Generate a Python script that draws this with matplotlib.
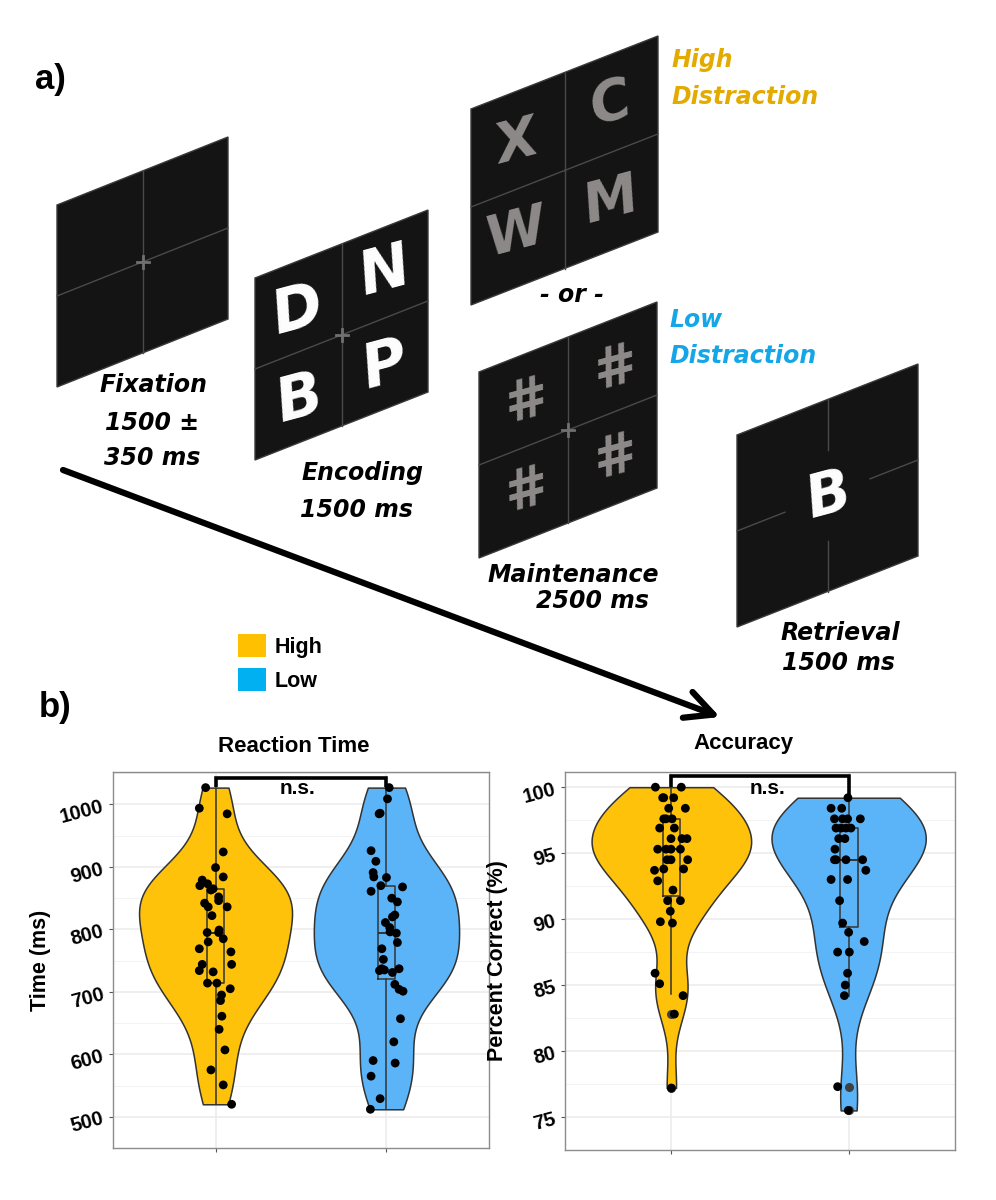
import matplotlib
matplotlib.use("Agg")
import matplotlib.pyplot as plt
from matplotlib.patches import Polygon, Patch
import numpy as np

# ---------------- data ----------------
conditions = ["High", "Low"]

# reaction time (ms) and the horizontal jitter of each dot
rt_high = [1027, 994, 985, 924, 899, 884, 879, 870, 873, 865, 863, 852, 846,
           842, 836, 836, 822, 795, 799, 795, 785, 780, 769, 764, 744, 744,
           734, 732, 714, 714, 705, 695, 686, 661, 640, 607, 575, 551, 520]
rt_high_jit = [-0.058, -0.095, 0.068, 0.045, 0.0, 0.045, -0.078, -0.092, -0.047,
               -0.014, -0.027, 0.018, 0.018, -0.064, -0.043, 0.068, -0.021,
               -0.049, 0.021, 0.018, 0.045, -0.043, -0.095, 0.090, -0.078,
               0.094, -0.095, -0.014, -0.047, 0.008, 0.086, 0.035, 0.029,
               0.037, 0.021, 0.055, -0.027, 0.045, 0.094]
rt_low = [1027, 1009, 986, 985, 926, 909, 891, 884, 883, 870, 861, 868, 850,
          844, 823, 820, 811, 803, 796, 794, 779, 769, 752, 737, 735, 737,
          734, 731, 712, 704, 701, 657, 620, 586, 590, 565, 529, 512]
rt_low_jit = [0.016, 0.006, -0.037, -0.043, -0.090, -0.062, -0.078, -0.074, 0.0,
              -0.033, -0.090, 0.094, 0.031, 0.064, 0.049, 0.035, -0.006, 0.019,
              0.021, 0.058, 0.064, -0.027, -0.018, -0.027, -0.012, 0.074,
              -0.041, 0.035, 0.049, 0.074, 0.097, 0.082, 0.043, 0.051, -0.078,
              -0.090, -0.037, -0.094]

# accuracy (% correct)
acc_high = [100.0, 100.0, 99.2, 99.2, 99.2, 98.4, 98.4, 97.6, 97.6, 97.6, 96.9,
            96.9, 96.1, 96.1, 96.1, 95.3, 95.3, 95.3, 95.3, 94.5, 94.5, 94.5,
            93.7, 93.8, 93.8, 92.9, 92.2, 91.4, 91.4, 90.6, 89.8, 89.7, 85.9,
            85.1, 84.2, 82.8, 77.2]
acc_high_jit = [-0.090, 0.056, -0.049, -0.043, 0.013, -0.015, 0.079, -0.043,
                -0.030, 0.004, -0.066, 0.017, -0.002, 0.060, 0.088, -0.077,
                -0.030, -0.002, 0.051, -0.024, -0.002, 0.092, -0.095, -0.043,
                0.069, -0.077, 0.009, -0.021, 0.051, -0.006, -0.062, 0.006,
                -0.092, -0.066, 0.066, 0.017, 0.0]
acc_low = [99.2, 98.4, 98.4, 97.6, 97.6, 97.6, 97.6, 96.9, 96.9, 96.9, 96.9,
           96.1, 96.1, 95.3, 94.5, 94.5, 94.5, 94.5, 93.7, 93.0, 93.0, 91.4,
           89.7, 89.0, 88.3, 87.5, 87.5, 85.9, 85.0, 84.2, 77.3, 75.5]
acc_low_jit = [-0.004, -0.099, -0.039, -0.080, -0.034, -0.006, 0.066, -0.071,
               -0.043, -0.015, 0.013, -0.056, -0.021, -0.077, -0.080, -0.071,
               -0.015, 0.079, 0.097, -0.099, -0.006, -0.051, -0.034, 0.0, 0.088,
               -0.062, 0.004, -0.006, -0.019, -0.024, -0.062, -0.002]

# box statistics as drawn in the figure
rt_q1 = [714, 721]
rt_med = [795, 795]
rt_q3 = [865, 869]
rt_lo = [520, 512]
rt_hi = [1027, 1027]
rt_fliers = [[], []]

acc_q1 = [91.75, 89.4]
acc_med = [95.3, 94.5]
acc_q3 = [97.6, 96.9]
acc_lo = [84.3, 84.2]
acc_hi = [100.0, 99.2]
acc_fliers = [[82.8, 77.2], [77.3, 75.5]]

# significance brackets: bar height, the two drop ends
rt_bar = [1042.5, 1028, 1028]
acc_bar = [100.83, 100.0, 99.2]

# ---------------- styles ----------------
VIOLIN = ["#FFC20A", "#5CB4F8"]
LEGEND = ["#FFC000", "#00B0F0"]
HIGH_TXT = "#E3AA00"
LOW_TXT = "#14A6E6"
SCREEN = "#141414"
GRID_IN = "#4a4a4a"
DISTRACT = "#8E8A8A"
ARIAL = "Liberation Sans"
STAGE = dict(family="DejaVu Sans", weight="bold", style="italic", fontsize=17,
             ha="center", va="center")

fig = plt.figure(figsize=(9.96, 12), dpi=100)

# ---------------- panel a: task schematic (pixel coords) ----------------
ax0 = fig.add_axes([0, 0, 1, 1])
ax0.set_xlim(0, 996)
ax0.set_ylim(1200, 0)
ax0.axis("off")


def screen(x, y, w, h, rise, gap=0.0, cross=False):
    def pt(u, v):
        return (x + u * w, y + v * h - u * rise)
    ax0.add_patch(Polygon([pt(0, 0), pt(1, 0), pt(1, 1), pt(0, 1)], closed=True,
                          facecolor=SCREEN, edgecolor="#3a3a3a", lw=1, zorder=2))
    for a, b in [(0.0, 0.5 - gap), (0.5 + gap, 1.0)]:
        p, q = pt(0.5, a), pt(0.5, b)
        ax0.plot([p[0], q[0]], [p[1], q[1]], color=GRID_IN, lw=1, zorder=3)
        p, q = pt(a, 0.5), pt(b, 0.5)
        ax0.plot([p[0], q[0]], [p[1], q[1]], color=GRID_IN, lw=1, zorder=3)
    if cross:
        cx, cy = pt(0.5, 0.5)
        ax0.plot([cx - 6, cx + 6], [cy, cy], color="#707070", lw=2, zorder=4)
        ax0.plot([cx, cx], [cy - 6, cy + 6], color="#707070", lw=2, zorder=4)
    return pt


def letter(pt, u, v, s, color, size):
    px, py = pt(u, v)
    ax0.text(px, py, s, color=color, fontsize=size, family="DejaVu Sans",
             weight="bold", style="italic", rotation=15, ha="center",
             va="center", zorder=5)


screen(57, 205, 171, 182, 68, cross=True)

enc = screen(255, 278, 173, 182, 68, cross=True)
for (u, v), s in zip([(0.25, 0.28), (0.75, 0.25), (0.26, 0.77), (0.75, 0.76)],
                     ["D", "N", "B", "P"]):
    letter(enc, u, v, s, "white", 44)

hi = screen(471, 109, 187, 196, 73)
for (u, v), s in zip([(0.25, 0.27), (0.75, 0.25), (0.24, 0.72), (0.75, 0.75)],
                     ["X", "C", "W", "M"]):
    letter(hi, u, v, s, DISTRACT, 40)

lo = screen(479, 372, 178, 186, 70, cross=True)
for (u, v) in [(0.25, 0.26), (0.75, 0.27), (0.25, 0.74), (0.75, 0.75)]:
    letter(lo, u, v, "#", DISTRACT, 40)

ret = screen(737, 435, 181, 192, 71, gap=0.235)
letter(ret, 0.51, 0.51, "B", "white", 42)

ax0.text(153, 385, "Fixation", **STAGE)
ax0.text(152, 423, "1500 ±", **STAGE)
ax0.text(152, 458, "350 ms", **STAGE)
ax0.text(362, 473, "Encoding", **STAGE)
ax0.text(357, 510, "1500 ms", **STAGE)
ax0.text(572, 295, "- or -", **STAGE)
ax0.text(573, 575, "Maintenance", **STAGE)
ax0.text(592, 601, "2500 ms", **STAGE)
ax0.text(840, 633, "Retrieval", **STAGE)
ax0.text(838, 663, "1500 ms", **STAGE)
left = dict(STAGE, ha="left")
ax0.text(672, 60, "High", color=HIGH_TXT, **left)
ax0.text(672, 97, "Distraction", color=HIGH_TXT, **left)
ax0.text(670, 320, "Low", color=LOW_TXT, **left)
ax0.text(670, 356, "Distraction", color=LOW_TXT, **left)

ax0.annotate("", xy=(720, 717), xytext=(63, 470),
             arrowprops=dict(arrowstyle="->,head_length=0.9,head_width=0.45",
                             lw=4.5, color="black", mutation_scale=22,
                             shrinkA=0, shrinkB=0))

ax0.text(50, 80, "a)", family=ARIAL, weight="bold", fontsize=25,
         ha="center", va="center")
ax0.text(55, 708, "b)", family=ARIAL, weight="bold", fontsize=25,
         ha="center", va="center")

handles = [Patch(facecolor=c, edgecolor="none") for c in LEGEND]
fig.legend(handles, conditions, loc="upper left",
           bbox_to_anchor=(238 / 996, 1 - 634 / 1200), frameon=False,
           prop=dict(family=ARIAL, weight="bold", size=15.5),
           handlelength=1.3, handleheight=1.3, handletextpad=0.4,
           labelspacing=0.45, borderpad=0, borderaxespad=0)

ax0.text(294, 746, "Reaction Time", family=ARIAL, weight="bold", fontsize=16,
         ha="center", va="center")
ax0.text(743, 743, "Accuracy", family=ARIAL, weight="bold", fontsize=16,
         ha="center", va="center")


# ---------------- panel b: violins ----------------
def nrd0(kde):
    d = kde.dataset.ravel()
    sd = d.std(ddof=1)
    iqr = np.subtract(*np.percentile(d, [75, 25]))
    return 0.9 * min(sd, iqr / 1.34) * len(d) ** -0.2 / sd


def violin_panel(ax, groups, jitters, widths, q1, med, q3, lo, hi, fliers,
                 bar, ns_xy, ylim, yticks, ylabel, label_x):
    ax.set_xlim(0.4, 2.6)
    ax.set_ylim(*ylim)
    ax.set_yticks(yticks)
    step = yticks[1] - yticks[0]
    ax.set_yticks(np.arange(yticks[0] - step / 2, ylim[1], step), minor=True)
    ax.set_xticks([1, 2])
    ax.set_xticklabels([])
    ax.grid(True, which="major", color="#EBEBEB", lw=1.1)
    ax.grid(True, which="minor", axis="y", color="#F3F3F3", lw=0.7)
    ax.set_axisbelow(True)
    for s in ax.spines.values():
        s.set_color("#8c8c8c")
        s.set_linewidth(1)
    ax.tick_params(which="major", length=3, color="#555555", width=0.8, pad=2)
    ax.tick_params(which="minor", length=0)
    for t in ax.get_yticklabels():
        t.set_fontfamily(ARIAL)
        t.set_fontweight("bold")
        t.set_fontsize(14.5)
        t.set_rotation(15)
    ax.set_ylabel(ylabel, family=ARIAL, weight="bold", fontsize=15.5)
    ax.yaxis.set_label_coords(label_x, 0.5)

    parts = ax.violinplot(groups, positions=[1, 2], widths=widths,
                          showextrema=False, bw_method=nrd0, points=300)
    for body, c in zip(parts["bodies"], VIOLIN):
        body.set_facecolor(c)
        body.set_edgecolor("#333333")
        body.set_linewidth(1.1)
        body.set_alpha(1)
        body.set_zorder(1)

    stats = [dict(q1=a, med=b, q3=c, whislo=d, whishi=e, fliers=f)
             for a, b, c, d, e, f in zip(q1, med, q3, lo, hi, fliers)]
    line = dict(color="#333333", lw=1.1)
    ax.bxp(stats, positions=[1, 2], widths=0.1, showcaps=False,
           boxprops=line, whiskerprops=line, medianprops=dict(color="#333333", lw=1.4),
           flierprops=dict(marker="o", markerfacecolor="#404040",
                           markeredgecolor="none", markersize=6.5),
           manage_ticks=False, zorder=2)

    for i, (vals, jit) in enumerate(zip(groups, jitters)):
        ax.scatter(np.array(jit) + i + 1, vals, s=40, color="black",
                   edgecolors="none", zorder=4)

    ax.plot([1, 1, 2, 2], [bar[1], bar[0], bar[0], bar[2]], color="black",
            lw=2.6, solid_joinstyle="miter", solid_capstyle="butt", zorder=5)
    ax.text(ns_xy[0], ns_xy[1], "n.s.", family=ARIAL, weight="bold",
            fontsize=15, ha="center", va="center", zorder=5)


ax1 = fig.add_axes([113 / 996, 1 - 1148 / 1200, 376 / 996, 376 / 1200])
violin_panel(ax1, [rt_high, rt_low], [rt_high_jit, rt_low_jit], [0.895, 0.85],
             rt_q1, rt_med, rt_q3, rt_lo, rt_hi, rt_fliers, rt_bar,
             (1.48, 1026), (489, 1052), [500, 600, 700, 800, 900, 1000],
             "Time (ms)", -0.165)

ax2 = fig.add_axes([565 / 996, 1 - 1150 / 1200, 390 / 996, 378 / 1200])
violin_panel(ax2, [acc_high, acc_low], [acc_high_jit, acc_low_jit], [0.9, 0.87],
             acc_q1, acc_med, acc_q3, acc_lo, acc_hi, acc_fliers, acc_bar,
             (1.54, 99.9), (74.41, 101.15), [75, 80, 85, 90, 95, 100],
             "Percent Correct (%)", -0.145)

fig.savefig("out.png", dpi=100)
